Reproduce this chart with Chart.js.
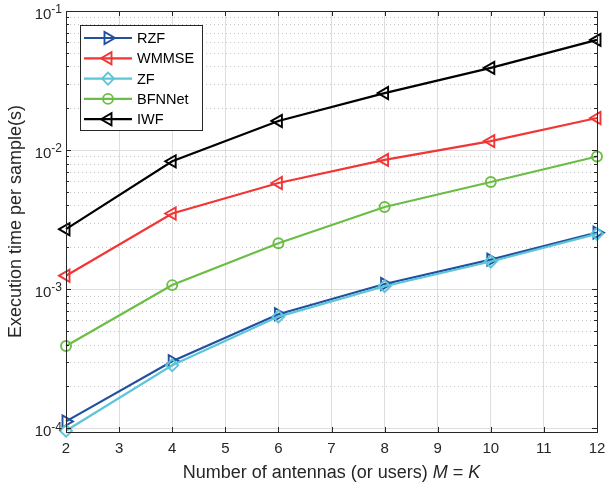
<!DOCTYPE html>
<html>
<head>
<meta charset="utf-8">
<script src="https://cdn.jsdelivr.net/npm/chart.js@4.4.0/dist/chart.umd.min.js"></script>
<style>
  html, body { margin: 0; padding: 0; background: #fff; }
  #wrap { width: 608px; height: 485px; }
</style>
</head>
<body>
<div id="wrap"><canvas id="c" width="608" height="485"></canvas></div>
<script>
// values (execution time per sample, seconds)
const antennas = [2, 4, 6, 8, 10, 12];
const rzf    = [1.12e-4, 3.03e-4, 6.6e-4, 1.09e-3, 1.63e-3, 2.55e-3];
const wmmse  = [1.25e-3, 3.5e-3, 5.8e-3, 8.5e-3, 1.16e-2, 1.7e-2];
const zf     = [9.6e-5, 2.84e-4, 6.35e-4, 1.05e-3, 1.58e-3, 2.5e-3];
const bfnnet = [3.9e-4, 1.07e-3, 2.14e-3, 3.9e-3, 5.9e-3, 9.0e-3];
const iwf    = [2.7e-3, 8.3e-3, 1.62e-2, 2.57e-2, 3.9e-2, 6.2e-2];

const xTicks = [2, 3, 4, 5, 6, 7, 8, 9, 10, 11, 12];
const yDecades = [-4, -3, -2, -1];

const AXIS = '#262626';
const FONT = '"Liberation Sans", Arial, Helvetica, sans-serif';

function pts(ys) {
    return antennas.map((x, i) => ({ x: x, y: ys[i] }));
}

function series(label, ys, color, style, rotation, radius, order) {
    return {
        label: label,
        data: pts(ys),
        borderColor: color,
        backgroundColor: 'rgba(0,0,0,0)',
        borderWidth: 2.2,
        pointStyle: style,
        rotation: rotation,
        pointRadius: radius,
        pointHoverRadius: radius,
        pointBorderWidth: 1.9,
        pointBorderColor: color,
        pointBackgroundColor: 'rgba(0,0,0,0)',
        tension: 0,
        clip: false,
        order: order
    };
}

// marker drawn the same way Chart.js does, for the legend
function marker(ctx, style, rot, r, x, y) {
    ctx.beginPath();
    if (style === 'circle') {
        ctx.arc(x, y, r, 0, Math.PI * 2);
    } else if (style === 'rectRot') {
        ctx.moveTo(x - r, y); ctx.lineTo(x, y - r);
        ctx.lineTo(x + r, y); ctx.lineTo(x, y + r);
        ctx.closePath();
    } else {
        let a = rot * Math.PI / 180;
        ctx.moveTo(x + Math.sin(a) * r, y - Math.cos(a) * r);
        a += 2 * Math.PI / 3;
        ctx.lineTo(x + Math.sin(a) * r, y - Math.cos(a) * r);
        a += 2 * Math.PI / 3;
        ctx.lineTo(x + Math.sin(a) * r, y - Math.cos(a) * r);
        ctx.closePath();
    }
    ctx.stroke();
}

const matlabAxes = {
    id: 'matlabAxes',
    beforeDatasetsDraw(chart) {
        const { ctx, chartArea: a, scales: { y } } = chart;
        ctx.save();
        ctx.strokeStyle = '#c4c4c4';
        ctx.lineWidth = 1;
        ctx.setLineDash([1, 3]);
        for (let e = -5; e <= -2; e++) {
            for (let m = 2; m <= 9; m++) {
                const v = m * Math.pow(10, e);
                if (v < y.min || v > y.max) continue;
                const py = Math.round(y.getPixelForValue(v)) + 0.5;
                ctx.beginPath();
                ctx.moveTo(a.left, py);
                ctx.lineTo(a.right, py);
                ctx.stroke();
            }
        }
        ctx.restore();
    },
    afterDraw(chart) {
        const { ctx, chartArea: a, scales: { x, y } } = chart;
        ctx.save();
        // frame
        ctx.strokeStyle = AXIS;
        ctx.lineWidth = 1;
        ctx.strokeRect(Math.round(a.left) + 0.5, Math.round(a.top) + 0.5,
            Math.round(a.right - a.left), Math.round(a.bottom - a.top));

        // inward ticks
        ctx.beginPath();
        xTicks.forEach(t => {
            const px = Math.round(x.getPixelForValue(t)) + 0.5;
            ctx.moveTo(px, a.bottom); ctx.lineTo(px, a.bottom - 5);
            ctx.moveTo(px, a.top); ctx.lineTo(px, a.top + 5);
        });
        for (let e = -5; e <= -1; e++) {
            for (let m = 1; m <= 9; m++) {
                const v = m * Math.pow(10, e);
                if (v < y.min || v > y.max) continue;
                const len = m === 1 ? 5 : 3;
                const py = Math.round(y.getPixelForValue(v)) + 0.5;
                ctx.moveTo(a.left, py); ctx.lineTo(a.left + len, py);
                ctx.moveTo(a.right, py); ctx.lineTo(a.right - len, py);
            }
        }
        ctx.stroke();

        // tick labels
        ctx.fillStyle = AXIS;
        ctx.font = '15px ' + FONT;
        ctx.textAlign = 'center';
        ctx.textBaseline = 'middle';
        xTicks.forEach(t => {
            ctx.fillText(String(t), x.getPixelForValue(t), 449);
        });
        yDecades.forEach(e => {
            const py = y.getPixelForValue(Math.pow(10, e));
            const sup = String(e);
            ctx.font = '12px ' + FONT;
            const sw = ctx.measureText(sup).width;
            ctx.textAlign = 'left';
            ctx.textBaseline = 'middle';
            ctx.fillText(sup, a.left - 4 - sw, py - 1);
            ctx.font = '15px ' + FONT;
            ctx.textAlign = 'right';
            ctx.fillText('10', a.left - 4 - sw, py + 4);
        });

        // axis titles
        ctx.font = '18px ' + FONT;
        ctx.textBaseline = 'alphabetic';
        const parts = [
            ['Number of antennas (or users) ', ''],
            ['M', 'italic '],
            [' = ', ''],
            ['K', 'italic ']
        ];
        let total = 0;
        parts.forEach(p => {
            ctx.font = p[1] + '18px ' + FONT;
            total += ctx.measureText(p[0]).width;
        });
        let cx = (a.left + a.right) / 2 - total / 2;
        ctx.textAlign = 'left';
        parts.forEach(p => {
            ctx.font = p[1] + '18px ' + FONT;
            ctx.fillText(p[0], cx, 478);
            cx += ctx.measureText(p[0]).width;
        });

        ctx.save();
        ctx.translate(21, (a.top + a.bottom) / 2);
        ctx.rotate(-Math.PI / 2);
        ctx.font = '18px ' + FONT;
        ctx.textAlign = 'center';
        ctx.fillText('Execution time per sample(s)', 0, 0);
        ctx.restore();

        // legend
        const bx = 80, by = 25, bw = 122, bh = 105;
        ctx.fillStyle = '#fff';
        ctx.fillRect(bx, by, bw, bh);
        ctx.strokeStyle = AXIS;
        ctx.lineWidth = 1;
        ctx.strokeRect(bx + 0.5, by + 0.5, bw, bh);
        ctx.font = '14.5px ' + FONT;
        ctx.textAlign = 'left';
        ctx.textBaseline = 'middle';
        chart.data.datasets.forEach((ds, i) => {
            const ry = 38 + i * 20.3;
            ctx.strokeStyle = ds.borderColor;
            ctx.lineWidth = ds.borderWidth;
            ctx.beginPath();
            ctx.moveTo(84, ry); ctx.lineTo(132, ry);
            ctx.stroke();
            ctx.lineWidth = ds.pointBorderWidth;
            marker(ctx, ds.pointStyle, ds.rotation, ds.pointRadius, 108, ry);
            ctx.fillStyle = '#000';
            ctx.fillText(ds.label, 137, ry + 1);
        });
        ctx.restore();
    }
};

new Chart(document.getElementById('c'), {
    type: 'line',
    data: {
        datasets: [
            series('RZF', rzf, '#2150a0', 'triangle', 90, 7, 5),
            series('WMMSE', wmmse, '#f23535', 'triangle', 270, 7, 4),
            series('ZF', zf, '#5cc6d8', 'rectRot', 0, 6, 3),
            series('BFNNet', bfnnet, '#6cbd45', 'circle', 0, 5, 2),
            series('IWF', iwf, '#000000', 'triangle', 270, 7, 1)
        ]
    },
    options: {
        responsive: false,
        animation: false,
        events: [],
        layout: { padding: { left: 0, right: 11, top: 11, bottom: 0 } },
        plugins: {
            legend: { display: false },
            tooltip: { enabled: false }
        },
        scales: {
            x: {
                type: 'linear',
                min: 2,
                max: 12,
                afterFit: s => { s.height = 53; },
                afterBuildTicks: s => { s.ticks = xTicks.map(v => ({ value: v })); },
                ticks: { display: false },
                grid: { color: '#dedede', drawTicks: false },
                border: { display: false }
            },
            y: {
                type: 'logarithmic',
                min: 9.4e-5,
                max: 0.1,
                afterFit: s => { s.width = 66; },
                afterBuildTicks: s => { s.ticks = yDecades.map(e => ({ value: Math.pow(10, e) })); },
                ticks: { display: false },
                grid: { color: '#dedede', drawTicks: false },
                border: { display: false }
            }
        }
    },
    plugins: [matlabAxes]
});
</script>
</body>
</html>
